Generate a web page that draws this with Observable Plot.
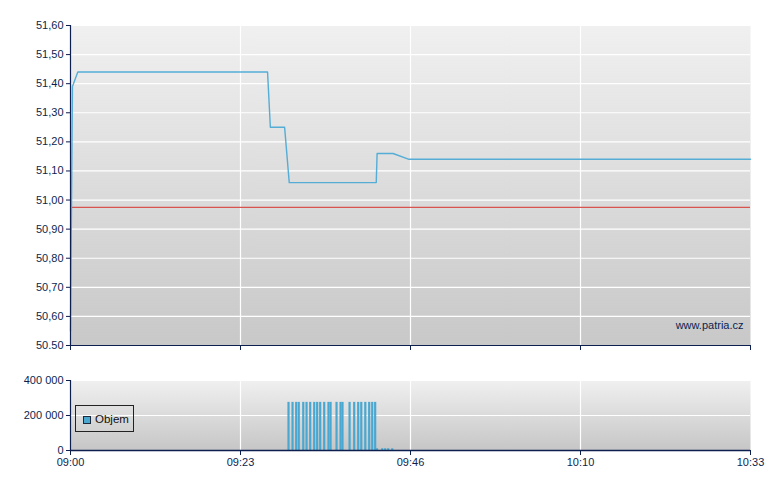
<!DOCTYPE html>
<html>
<head>
<meta charset="utf-8">
<script src="https://cdn.jsdelivr.net/npm/d3@7"></script>
<script src="https://cdn.jsdelivr.net/npm/@observablehq/plot@0.6"></script>
<style>
  html, body { margin: 0; padding: 0; background: #ffffff; }
  #wrap { position: relative; width: 780px; height: 490px; font-family: "Liberation Sans", Arial, sans-serif; }
  #wrap svg { display: block; }
  #legend { position: absolute; left: 75px; top: 405px; width: 59px; height: 27px; border: 1px solid #222; box-sizing: border-box; }
  #legend .sw { position: absolute; left: 7px; top: 10px; width: 6px; height: 6px; background: #4aa8d0; border: 1px solid #1b2a3c; }
  #legend .lb { position: absolute; left: 19px; top: 6px; font-size: 11.5px; color: #111; line-height: 14px; }
</style>
</head>
<body>
<div id="wrap"><div id="legend"><div class="sw"></div><div class="lb">Objem</div></div></div>
<script>
// ---- data ----
const priceTimes = ["09:00:00","09:00:16","09:01:00","09:26:57","09:27:20","09:29:17","09:29:55","09:41:49","09:41:56","09:44:07","09:46:18","10:33:00"];
const priceValues = [50.55, 51.39, 51.44, 51.44, 51.25, 51.25, 51.06, 51.06, 51.16, 51.16, 51.14, 51.14];
const refPrice = 50.975;

const volTimes = ["09:29:49","09:30:22","09:30:52","09:31:13","09:31:50","09:32:17","09:32:47","09:33:20","09:33:44","09:34:09","09:34:42","09:35:17","09:35:34","09:36:23","09:36:56","09:37:12","09:38:10","09:38:48","09:39:21","09:39:46","09:40:19","09:40:51","09:41:16","09:41:40","09:41:55","09:42:38","09:43:02","09:43:27","09:44:00"];
const volValues = [275000,275000,275000,275000,275000,275000,275000,275000,275000,275000,275000,275000,275000,275000,275000,275000,275000,275000,275000,275000,275000,275000,275000,275000,10000,10000,10000,10000,10000];

const xTickTimes = ["09:00:00","09:23:15","09:46:30","10:09:45","10:33:00"];
const xTickLabels = ["09:00","09:23","09:46","10:10","10:33"];
const yTicks = [50.5,50.6,50.7,50.8,50.9,51.0,51.1,51.2,51.3,51.4,51.5,51.6];
const yTickLabels = ["50.50","50,60","50,70","50,80","50,90","51,00","51,10","51,20","51,30","51,40","51,50","51,60"];
const volTicks = [0, 200000, 400000];
const volTickLabels = ["0","200 000","400 000"];

// ---- helpers ----
const T = s => new Date("2000-01-01T" + s + "Z");
const navy = "#0c1f4f";
const lineColor = "#55add6";
const barColor = "#4aa8d0";
const price = priceTimes.map((t, i) => ({t: T(t), v: priceValues[i]}));
const vol = volTimes.map((t, i) => ({t: T(t), v: volValues[i]}));
const xTicks = xTickTimes.map(T);
const xLab = new Map(xTicks.map((d, i) => [+d, xTickLabels[i]]));
const yLab = new Map(yTicks.map((d, i) => [d, yTickLabels[i]]));
const vLab = new Map(volTicks.map((d, i) => [d, volTickLabels[i]]));
const t0 = xTicks[0], t1 = xTicks[xTicks.length - 1];

const style = {fontFamily: "'Liberation Sans', Arial, sans-serif", fontSize: "11px", color: navy, background: "transparent", overflow: "visible"};

function addGradient(svg, id, c0, c1) {
  const defs = d3.select(svg).insert("defs", ":first-child");
  const g = defs.append("linearGradient").attr("id", id).attr("x1", 0).attr("y1", 0).attr("x2", 0).attr("y2", 1);
  g.append("stop").attr("offset", "0%").attr("stop-color", c0);
  g.append("stop").attr("offset", "100%").attr("stop-color", c1);
}

const priceChart = Plot.plot({
  width: 780, height: 350,
  marginLeft: 70, marginRight: 30, marginTop: 25, marginBottom: 5,
  style,
  x: {type: "utc", domain: [t0, t1], axis: null, label: null},
  y: {domain: [50.5, 51.6], axis: null, label: null},
  marks: [
    Plot.frame({fill: "url(#gradP)", stroke: "none"}),
    Plot.gridY(yTicks, {stroke: "#ffffff", strokeOpacity: 1, strokeWidth: 1.2}),
    Plot.gridX(xTicks.slice(1, -1), {stroke: "#ffffff", strokeOpacity: 1, strokeWidth: 1.2}),
    Plot.ruleY([refPrice], {stroke: "#d9534f", strokeWidth: 1.2}),
    Plot.line(price, {x: "t", y: "v", stroke: lineColor, strokeWidth: 1.4}),
    Plot.ruleX([t0], {stroke: navy, strokeWidth: 1.2}),
    Plot.ruleY([50.5], {stroke: navy, strokeWidth: 1.2}),
    Plot.axisY(yTicks, {tickSize: 4, tickPadding: 3, tickFormat: d => yLab.get(d), stroke: navy, fill: navy, label: null}),
    Plot.axisX(xTicks, {tickSize: 5, tickFormat: () => "", stroke: navy, label: null}),
    Plot.text(["www.patria.cz"], {frameAnchor: "bottom-right", dx: -7, dy: -17, fill: navy, fontSize: 11})
  ]
});
addGradient(priceChart, "gradP", "#f0f0f0", "#c8c8c8");

const volChart = Plot.plot({
  width: 780, height: 140,
  marginLeft: 70, marginRight: 30, marginTop: 30, marginBottom: 40,
  style,
  x: {type: "utc", domain: [t0, t1], axis: null, label: null},
  y: {domain: [0, 400000], axis: null, label: null},
  marks: [
    Plot.frame({fill: "url(#gradV)", stroke: "none"}),
    Plot.gridY(volTicks, {stroke: "#ffffff", strokeOpacity: 1, strokeWidth: 1.2}),
    Plot.gridX(xTicks.slice(1, -1), {stroke: "#ffffff", strokeOpacity: 1, strokeWidth: 1.2}),
    Plot.ruleX(vol, {x: "t", y1: 0, y2: "v", stroke: barColor, strokeWidth: 2.2}),
    Plot.ruleX([t0], {stroke: navy, strokeWidth: 1.2}),
    Plot.ruleY([0], {stroke: navy, strokeWidth: 1.5}),
    Plot.axisY(volTicks, {tickSize: 4, tickPadding: 3, tickFormat: d => vLab.get(d), stroke: navy, fill: navy, label: null}),
    Plot.axisX(xTicks, {tickSize: 5, tickPadding: 3, tickFormat: d => xLab.get(+d), stroke: navy, fill: navy, label: null})
  ]
});
addGradient(volChart, "gradV", "#f0f0f0", "#c6c6c6");

const wrap = document.getElementById("wrap");
wrap.insertBefore(volChart, wrap.firstChild);
wrap.insertBefore(priceChart, wrap.firstChild);
</script>
</body>
</html>
